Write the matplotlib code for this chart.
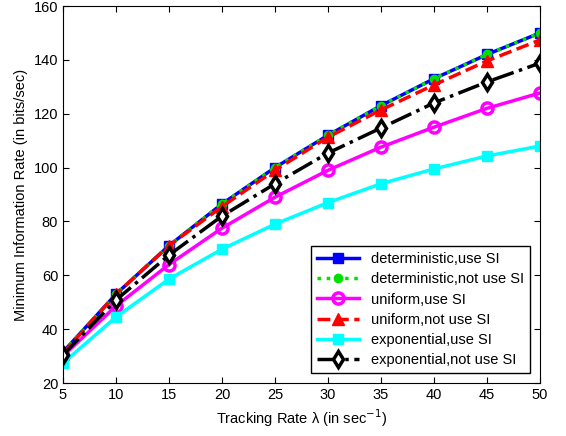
import matplotlib.pyplot as plt

# tracking rate (1/sec)
rate = [5, 10, 15, 20, 25, 30, 35, 40, 45, 50]

# minimum information rate (bits/sec)
det_si = [31.5, 53, 71, 86.5, 100, 112, 123, 133, 142, 150]
det_nosi = [31.5, 53, 71, 86.5, 100, 112, 123, 133, 142, 150]
uni_si = [30, 48.6, 64, 77.5, 89, 99, 107.6, 115, 122, 127.7]
uni_nosi = [31, 53, 71, 85.5, 99, 111.3, 121.4, 130.7, 139.6, 147.4]
exp_si = [27.4, 44.5, 58.6, 69.7, 79, 87, 94, 99.5, 104.3, 108]
exp_nosi = [30.4, 50.8, 67.5, 82, 94, 105.4, 114.7, 124, 131.8, 138.8]

plt.rcParams['font.family'] = ['Liberation Sans', 'DejaVu Sans']

fig = plt.figure(figsize=(5.66, 4.36), dpi=100)
ax = fig.add_axes([63 / 566, 1 - 383 / 436, (540 - 63) / 566, (383 - 6) / 436])

ax.plot(rate, det_si, '-s', color='blue', lw=2.5, ms=7, label='deterministic,use SI')
ax.plot(rate, det_nosi, ':o', color='#00e000', lw=2.5, ms=6, label='deterministic,not use SI')
ax.plot(rate, uni_si, '-o', color='magenta', lw=2.5, ms=8, mfc='none', mew=2.5, label='uniform,use SI')
ax.plot(rate, uni_nosi, '--^', color='red', lw=2.5, ms=9, label='uniform,not use SI')
ax.plot(rate, exp_si, '-s', color='cyan', lw=2.5, ms=7, label='exponential,use SI')
ax.plot(rate, exp_nosi, '-.d', color='black', lw=2.5, ms=8, mfc='white', mew=2.5, label='exponential,not use SI')

ax.set_xlim(5, 50)
ax.set_ylim(20, 160)
ax.set_xticks(range(5, 51, 5))
ax.set_yticks(range(20, 161, 20))
ax.tick_params(direction='in', top=True, right=True, labelsize=10.5, length=4)

ax.set_xlabel('Tracking Rate λ (in sec$^{-1}$)', fontsize=10.5)
ax.set_ylabel('Minimum Information Rate (in bits/sec)', fontsize=10.5)

leg = ax.legend(loc='lower right', fontsize=10.5, fancybox=False, framealpha=1,
                edgecolor='black', borderaxespad=0.7, handlelength=2.9,
                labelspacing=0.42, borderpad=0.4)
leg.get_frame().set_linewidth(1.0)

plt.savefig('out.png', dpi=100)
